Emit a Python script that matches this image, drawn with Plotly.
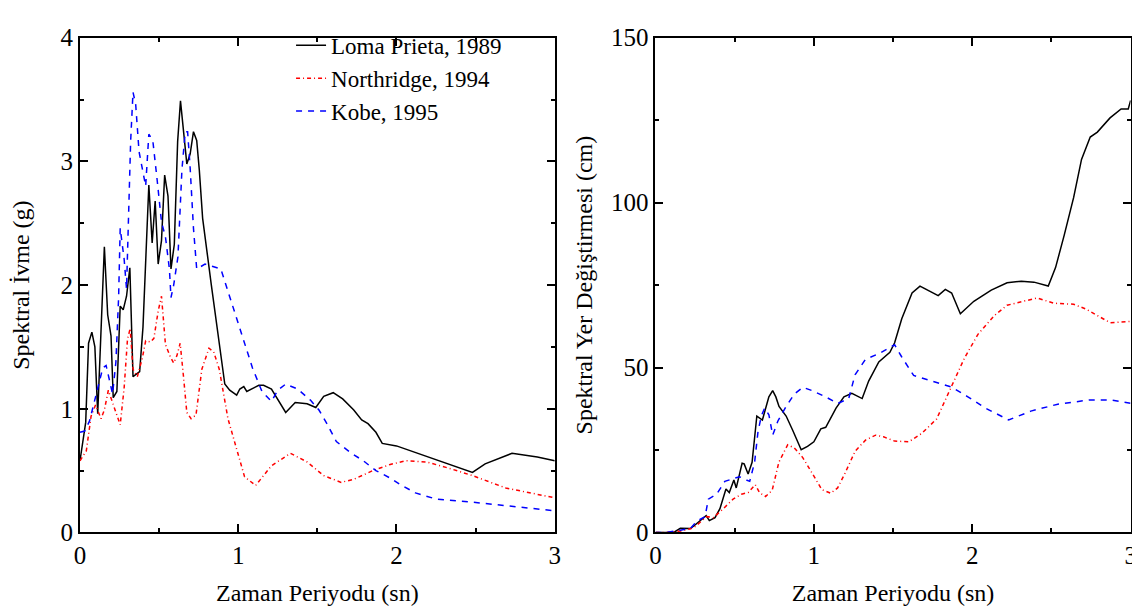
import plotly.graph_objects as go

# ---------------- data ----------------
series_names = ["Loma Prieta, 1989", "Northridge, 1994", "Kobe, 1995"]

# Spectral acceleration (g)
period_lp_acc = [0, 0.036, 0.054, 0.075, 0.094, 0.112, 0.154, 0.175, 0.196, 0.21, 0.233, 0.254, 0.273,
                 0.294, 0.315, 0.335, 0.356, 0.377, 0.398, 0.419, 0.435, 0.456, 0.475, 0.494, 0.515,
                 0.535, 0.556, 0.575, 0.596, 0.617, 0.635, 0.675, 0.696, 0.717, 0.7375, 0.754, 0.775,
                 0.83, 0.873, 0.915, 0.946, 0.99, 1.01, 1.035, 1.054, 1.13, 1.16, 1.21, 1.30, 1.36,
                 1.435, 1.49, 1.54, 1.60, 1.66, 1.73, 1.78, 1.82, 1.87, 1.91, 2.0, 2.16, 2.33, 2.48,
                 2.56, 2.73, 2.89, 3.0]
sa_lp = [0.58, 0.89, 1.53, 1.62, 1.50, 0.96, 2.31, 1.76, 1.59, 1.09, 1.14, 1.83, 1.80,
         1.91, 2.14, 1.26, 1.28, 1.30, 1.66, 2.26, 2.81, 2.34, 2.68, 2.17, 2.36,
         2.89, 2.72, 2.13, 2.33, 3.16, 3.49, 2.98, 3.06, 3.24, 3.17, 2.93, 2.54,
         2.00, 1.61, 1.20, 1.15, 1.11, 1.16, 1.18, 1.14, 1.19, 1.19, 1.16, 0.97, 1.05,
         1.04, 1.01, 1.10, 1.13, 1.08, 0.99, 0.91, 0.88, 0.81, 0.72, 0.70, 0.63, 0.55, 0.485,
         0.555, 0.64, 0.61, 0.58]

period_nr_acc = [0, 0.04, 0.07, 0.098, 0.133, 0.154, 0.179, 0.2, 0.227, 0.254, 0.279, 0.30, 0.317,
                 0.335, 0.3625, 0.394, 0.415, 0.446, 0.467, 0.494, 0.515, 0.54, 0.571, 0.592, 0.6125,
                 0.633, 0.654, 0.675, 0.702, 0.733, 0.77, 0.815, 0.845, 0.88, 0.935, 0.98, 1.04,
                 1.11, 1.16, 1.21, 1.33, 1.435, 1.54, 1.65, 1.73, 1.85, 1.96, 2.06, 2.19, 2.33,
                 2.48, 2.69, 3.0]
sa_nr = [0.58, 0.66, 0.94, 1.03, 0.92, 0.99, 1.15, 1.07, 0.97, 0.87, 1.17, 1.56, 1.65,
         1.32, 1.26, 1.41, 1.55, 1.54, 1.57, 1.79, 1.91, 1.52, 1.42, 1.37, 1.43,
         1.53, 1.26, 0.97, 0.92, 0.95, 1.32, 1.49, 1.46, 1.32, 0.92, 0.71, 0.45,
         0.38, 0.46, 0.54, 0.64, 0.57, 0.46, 0.405, 0.43, 0.50, 0.55, 0.58, 0.57, 0.52,
         0.46, 0.36, 0.28]

period_kb_acc = [0, 0.03, 0.06, 0.10, 0.144, 0.165, 0.185, 0.206, 0.227, 0.244, 0.254, 0.269, 0.279,
                 0.294, 0.31, 0.32, 0.335, 0.352, 0.373, 0.40, 0.415, 0.435, 0.46, 0.4875, 0.515,
                 0.54, 0.565, 0.575, 0.592, 0.619, 0.644, 0.665, 0.68, 0.696, 0.717, 0.7375, 0.79,
                 0.84, 0.89, 0.95, 1.02, 1.09, 1.15, 1.21, 1.25, 1.30, 1.375, 1.456, 1.51, 1.56,
                 1.62, 1.71, 1.79, 1.87, 1.96, 2.02, 2.12, 2.25, 2.48, 2.73, 3.0]
sa_kb = [0.81, 0.82, 0.90, 1.10, 1.33, 1.35, 1.24, 1.12, 1.38, 1.90, 2.46, 2.31, 2.21,
         1.97, 2.69, 3.16, 3.56, 3.46, 3.08, 2.90, 2.80, 3.22, 3.17, 2.85, 2.51,
         2.39, 2.13, 1.90, 2.00, 2.23, 2.93, 3.24, 3.24, 2.95, 2.46, 2.13, 2.17,
         2.15, 2.13, 1.89, 1.61, 1.33, 1.14, 1.06, 1.15, 1.20, 1.16, 1.07, 0.99, 0.88,
         0.735, 0.645, 0.58, 0.50, 0.44, 0.39, 0.32, 0.27, 0.245, 0.21, 0.175]

# Spectral displacement (cm)
period_lp_dis = [0, 0.115, 0.157, 0.22, 0.24, 0.28, 0.32, 0.34, 0.376, 0.407, 0.445, 0.466, 0.495,
                 0.51, 0.547, 0.56, 0.585, 0.61, 0.64, 0.675, 0.716, 0.74, 0.76, 0.78, 0.825, 0.867,
                 0.92, 0.96, 1.0, 1.044, 1.075, 1.14, 1.19, 1.24, 1.305, 1.346, 1.41, 1.48, 1.51,
                 1.555, 1.62, 1.67, 1.72, 1.785, 1.83, 1.87, 1.925, 2.01, 2.12, 2.22, 2.31, 2.39,
                 2.48, 2.526, 2.58, 2.64, 2.69, 2.745, 2.79, 2.87, 2.94, 2.985, 3.0]
sd_lp = [0, 0, 1.25, 1.2, 1.9, 3.4, 5.1, 3.6, 4.5, 7.2, 13.2, 12.1, 15.9,
         13.5, 21.0, 20.8, 17.7, 21.3, 35.3, 34.1, 41.1, 43.0, 41.1, 38.2, 35.3, 30.9,
         25.1, 26.1, 27.5, 31.4, 31.9, 37.7, 41.1, 42.2, 40.6, 45.9, 51.7, 54.6, 57.5,
         64.8, 72.6, 74.7, 73.5, 71.8, 73.7, 72.6, 66.3, 70.1, 73.5, 75.7, 76.2, 75.9,
         74.7, 80.3, 90.0, 101.5, 113.1, 119.9, 121.4, 125.7, 128.4, 128.4, 131.0]

period_nr_dis = [0, 0.07, 0.17, 0.24, 0.324, 0.366, 0.428, 0.49, 0.543, 0.585, 0.63, 0.657, 0.695,
                 0.737, 0.779, 0.835, 0.877, 0.93, 0.99, 1.05, 1.106, 1.15, 1.2, 1.26, 1.326, 1.39,
                 1.44, 1.51, 1.6, 1.68, 1.775, 1.87, 1.95, 2.035, 2.14, 2.22, 2.31, 2.41, 2.515,
                 2.64, 2.72, 2.79, 2.87, 3.0]
sd_nr = [0, 0, 0.5, 1.4, 4.8, 4.5, 7.2, 10.1, 11.6, 12.1, 14.5, 12.1, 10.9,
         12.8, 21.3, 26.6, 25.6, 22.7, 17.9, 13.0, 11.9, 13.5, 18.3, 24.6, 28.0, 29.5,
         29.0, 27.7, 27.5, 30.0, 34.4, 44.1, 52.8, 60.0, 65.8, 68.9, 69.9, 71.1, 69.5,
         69.2, 67.7, 65.8, 63.6, 64.0]

period_kb_dis = [0, 0.07, 0.157, 0.22, 0.26, 0.313, 0.334, 0.386, 0.438, 0.49, 0.53, 0.574, 0.595,
                 0.626, 0.647, 0.668, 0.689, 0.716, 0.74, 0.773, 0.825, 0.877, 0.93, 0.99, 1.075,
                 1.15, 1.22, 1.26, 1.326, 1.41, 1.51, 1.555, 1.63, 1.74, 1.87, 1.97, 2.08, 2.23,
                 2.37, 2.54, 2.745, 2.87, 3.0]
sd_kb = [0, 0, 0.7, 1.2, 3.4, 4.8, 10.1, 11.6, 15.5, 16.4, 16.9, 15.9, 15.5,
         21.3, 30.4, 35.3, 37.7, 35.7, 29.5, 33.8, 38.2, 42.0, 44.0, 43.0, 41.1,
         39.1, 40.6, 47.8, 52.5, 54.2, 56.9, 53.2, 47.6, 46.0, 44.1, 41.2, 37.8, 34.1,
         36.8, 38.9, 40.2, 40.2, 39.2]

x_range = [0, 3]
acc_range = [0, 4]
dis_range = [0, 150]

# ---------------- figure ----------------
FONT = "Liberation Serif"
W, H = 1140, 614

styles = [dict(color="#000000", width=1.5, dash="solid"),
          dict(color="#ff0000", width=1.5, dash="4px,3px,1px,3px"),
          dict(color="#0000ff", width=1.5, dash="6px,6px")]

fig = go.Figure()
acc_sets = [(period_lp_acc, sa_lp), (period_nr_acc, sa_nr), (period_kb_acc, sa_kb)]
dis_sets = [(period_lp_dis, sd_lp), (period_nr_dis, sd_nr), (period_kb_dis, sd_kb)]

for name, (px_, py_), st in zip(series_names, acc_sets, styles):
    fig.add_trace(go.Scatter(x=px_, y=py_, mode="lines", name=name, line=st,
                             xaxis="x", yaxis="y", legendgroup=name))
for name, (px_, py_), st in zip(series_names, dis_sets, styles):
    fig.add_trace(go.Scatter(x=px_, y=py_, mode="lines", name=name, line=st,
                             xaxis="x2", yaxis="y2", legendgroup=name, showlegend=False))

y_dom = [1 - 535 / H, 1 - 17.5 / H]
xd1 = [66.7 / W, 546.5 / W]
xd2 = [648.3 / W, 1128.5 / W]

def axis(rng, dtick, minor, domain, anchor, title, standoff):
    return dict(range=rng, domain=domain, anchor=anchor, dtick=dtick, tick0=0,
                showgrid=False, zeroline=False, showline=True, linecolor="black", linewidth=2,
                mirror="ticks", ticks="inside", ticklen=8, tickwidth=1.5, tickcolor="black",
                minor=dict(dtick=minor, tick0=0, ticks="inside", ticklen=4, tickwidth=1.5,
                           tickcolor="black", showgrid=False),
                tickfont=dict(family=FONT, size=25, color="black"),
                title=dict(text=title, font=dict(family=FONT, size=24, color="black"), standoff=standoff),
                fixedrange=True)

fig.update_layout(
    width=W, height=H,
    margin=dict(l=0, r=0, t=0, b=0),
    paper_bgcolor="white", plot_bgcolor="white",
    font=dict(family=FONT, color="black"),
    xaxis=axis(x_range, 1, 0.5, xd1, "y", "Zaman Periyodu (sn)", 16),
    yaxis=axis(acc_range, 1, 0.5, y_dom, "x", "Spektral İvme (g)", 24),
    xaxis2=axis(x_range, 1, 0.5, xd2, "y2", "Zaman Periyodu (sn)", 16),
    yaxis2=axis(dis_range, 50, 25, y_dom, "x2", "Spektral Yer Değiştirmesi (cm)", 12),
    legend=dict(x=280 / W, y=1 - 3 / H, xanchor="left", yanchor="top",
                bgcolor="rgba(255,255,255,0)", borderwidth=0,
                font=dict(family=FONT, size=23, color="black"), tracegroupgap=0),
    showlegend=True,
)

fig.write_html("out.html")
